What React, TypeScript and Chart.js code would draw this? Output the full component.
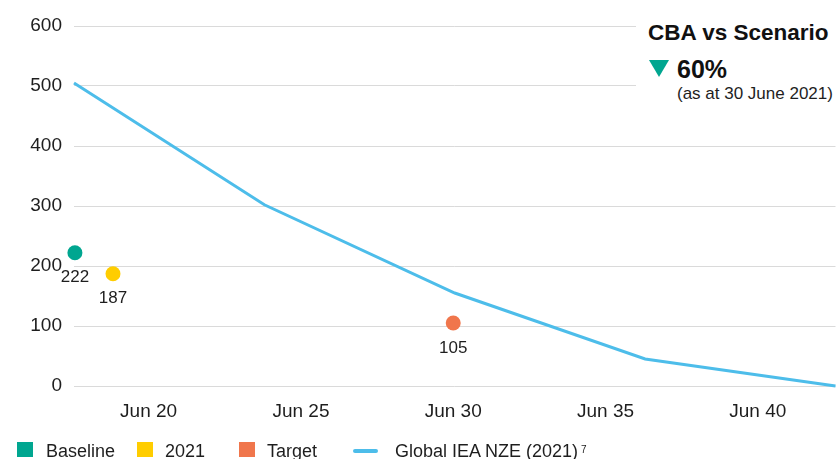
import React, { useEffect, useRef } from "react";
import { Chart, registerables } from "chart.js";

Chart.register(...registerables);

// ---- data ----
const seriesNames = ["Baseline", "2021", "Target"];
const pointYears = [2018.03, 2019.28, 2030.45];
const pointValues = [222, 187, 105];
const pointColors = ["#00A690", "#FFCD00", "#F0764C"];

const lineName = "Global IEA NZE (2021)";
const lineNote = "7";
const lineYears = [2018.0, 2024.25, 2030.5, 2036.75, 2043.0];
const lineValues = [505, 302, 155, 45, 0];
const lineColor = "#4DBDEA";

const xTickValues = [2020.45, 2025.45, 2030.45, 2035.45, 2040.45];
const xTickLabels = ["Jun 20", "Jun 25", "Jun 30", "Jun 35", "Jun 40"];
const yMin = 0;
const yMax = 600;
const yStep = 100;

const calloutTitle = "CBA vs Scenario";
const calloutValue = "60%";
const calloutNote = "(as at 30 June 2021)";
const calloutColor = "#00A690";

const FONT = '"Liberation Sans", Arial, sans-serif';
const TEXT = "#1e1e1e";

const pointLabelPlugin = {
  id: "pointLabels",
  afterDatasetsDraw(chart: any) {
    const ctx = chart.ctx;
    chart.data.datasets.forEach((ds: any, i: number) => {
      if (!ds.showValueLabel) return;
      const meta = chart.getDatasetMeta(i);
      meta.data.forEach((el: any, j: number) => {
        ctx.save();
        ctx.font = `17px ${FONT}`;
        ctx.fillStyle = TEXT;
        ctx.textAlign = "center";
        ctx.textBaseline = "middle";
        ctx.fillText(String(ds.data[j].y), el.x, el.y + 25);
        ctx.restore();
      });
    });
  },
};

export default function App() {
  const ref = useRef<HTMLCanvasElement | null>(null);

  useEffect(() => {
    if (!ref.current) return;
    const pointSets = seriesNames.map((name, i) => ({
      type: "scatter" as const,
      label: name,
      data: [{ x: pointYears[i], y: pointValues[i] }],
      backgroundColor: pointColors[i],
      borderWidth: 0,
      pointRadius: 7.5,
      pointHoverRadius: 7.5,
      showValueLabel: true,
      clip: false,
      order: 0,
    }));
    const lineSet = {
      type: "line" as const,
      label: lineName,
      data: lineYears.map((x, i) => ({ x, y: lineValues[i] })),
      borderColor: lineColor,
      borderWidth: 3,
      pointRadius: 0,
      tension: 0,
      fill: false,
      clip: false,
      order: 1,
    };
    const chart = new Chart(ref.current, {
      type: "scatter",
      data: { datasets: [...pointSets, lineSet] as any },
      plugins: [pointLabelPlugin],
      options: {
        animation: false,
        responsive: false,
        layout: { padding: { top: 26, right: 0, bottom: 23, left: 0 } },
        plugins: {
          legend: { display: false },
          tooltip: { enabled: false },
        },
        scales: {
          x: {
            type: "linear",
            min: 2018,
            max: 2043,
            grid: { display: false, drawTicks: false },
            border: { display: false },
            afterBuildTicks: (scale: any) => {
              scale.ticks = xTickValues.map((v) => ({ value: v }));
            },
            afterFit: (scale: any) => {
              scale.height = 50;
            },
            ticks: {
              autoSkip: false,
              maxRotation: 0,
              padding: 14,
              color: TEXT,
              font: { family: FONT, size: 19 },
              callback: (_v: any, i: number) => xTickLabels[i],
            },
          },
          y: {
            type: "linear",
            min: yMin,
            max: yMax,
            grid: { color: "#dadada", lineWidth: 1, drawTicks: false },
            border: { display: false },
            afterFit: (scale: any) => {
              scale.width = 74;
            },
            ticks: {
              stepSize: yStep,
              padding: 12,
              color: TEXT,
              font: { family: FONT, size: 19 },
            },
          },
        },
      } as any,
    });
    return () => chart.destroy();
  }, []);

  const legendText: React.CSSProperties = {
    position: "absolute",
    top: 442,
    fontFamily: FONT,
    fontSize: 18,
    lineHeight: "18px",
    color: TEXT,
    whiteSpace: "nowrap",
  };
  const squareLefts = [17, 137, 239];
  const textLefts = [46, 165, 267];

  return (
    <div
      style={{
        position: "absolute",
        left: 0,
        top: 0,
        width: 837,
        height: 459,
        overflow: "hidden",
        background: "#fff",
      }}
    >
      <canvas ref={ref} width={843} height={459} style={{ position: "absolute", left: 0, top: 0 }} />

      {/* callout */}
      <div
        style={{
          position: "absolute",
          left: 636,
          top: 0,
          width: 201,
          height: 112,
          background: "#fff",
        }}
      />
      <div
        style={{
          position: "absolute",
          left: 648,
          top: 22,
          fontFamily: FONT,
          fontWeight: 700,
          fontSize: 22.5,
          lineHeight: "22px",
          color: "#111",
          whiteSpace: "nowrap",
        }}
      >
        {calloutTitle}
      </div>
      <div
        style={{
          position: "absolute",
          left: 649,
          top: 60,
          width: 0,
          height: 0,
          borderLeft: "10px solid transparent",
          borderRight: "10px solid transparent",
          borderTop: `17px solid ${calloutColor}`,
        }}
      />
      <div
        style={{
          position: "absolute",
          left: 677,
          top: 57,
          fontFamily: FONT,
          fontWeight: 700,
          fontSize: 25,
          lineHeight: "25px",
          color: "#111",
          whiteSpace: "nowrap",
        }}
      >
        {calloutValue}
      </div>
      <div
        style={{
          position: "absolute",
          left: 677,
          top: 85,
          fontFamily: FONT,
          fontSize: 17,
          lineHeight: "17px",
          color: TEXT,
          whiteSpace: "nowrap",
        }}
      >
        {calloutNote}
      </div>

      {/* legend */}
      {seriesNames.map((name, i) => (
        <React.Fragment key={name}>
          <div
            style={{
              position: "absolute",
              left: squareLefts[i],
              top: 442,
              width: 16,
              height: 15,
              background: pointColors[i],
            }}
          />
          <div style={{ ...legendText, left: textLefts[i] }}>{name}</div>
        </React.Fragment>
      ))}
      <div
        style={{
          position: "absolute",
          left: 353,
          top: 449,
          width: 25,
          height: 4,
          borderRadius: 2,
          background: lineColor,
        }}
      />
      <div style={{ ...legendText, left: 395 }}>
        {lineName}
        <span style={{ fontSize: 10, verticalAlign: "top", marginLeft: 3, position: "relative", top: -1 }}>
          {lineNote}
        </span>
      </div>
    </div>
  );
}
